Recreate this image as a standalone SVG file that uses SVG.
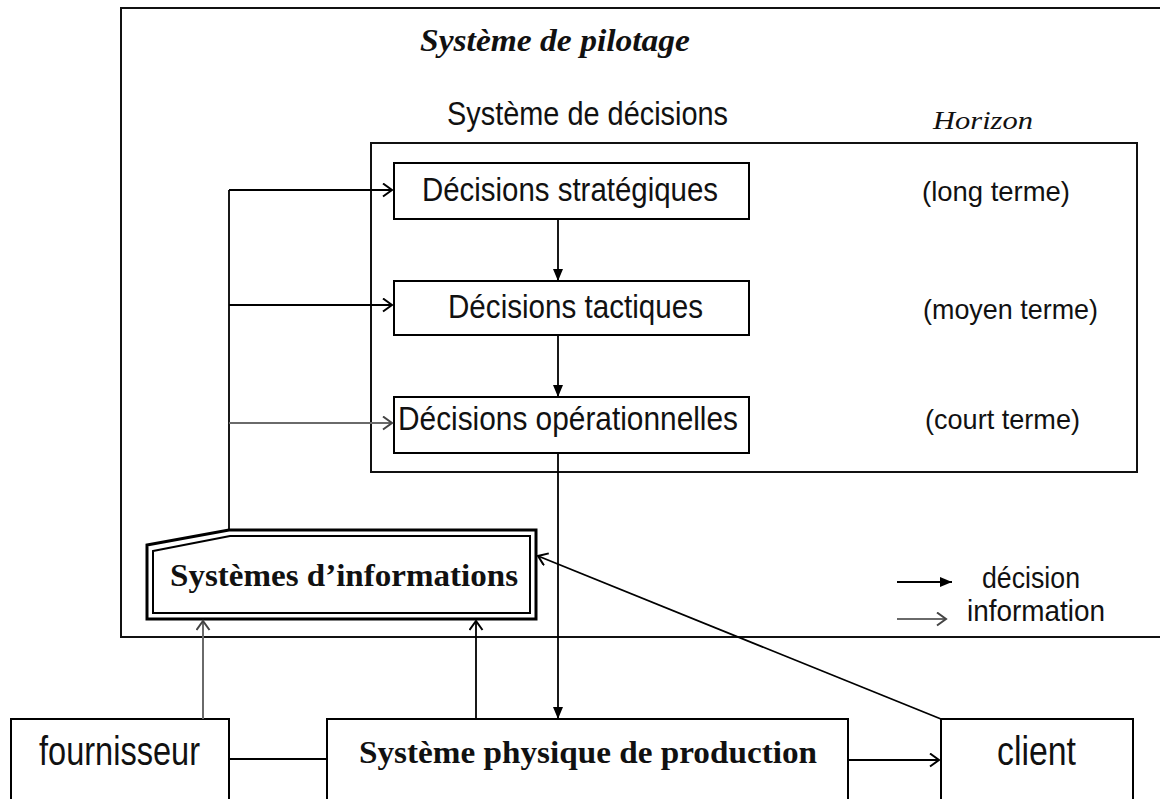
<svg xmlns="http://www.w3.org/2000/svg" width="1160" height="799" viewBox="0 0 1160 799">
  <style>
    .box { fill: #fff; stroke: #000; stroke-width: 2; }
    .frame { fill: none; stroke: #111; stroke-width: 2; }
    .sans { font-family: "Liberation Sans", Arial, sans-serif; fill: #111; }
    .serif { font-family: "Liberation Serif", "Times New Roman", serif; fill: #111; }
    .dec { fill: none; stroke: #000; stroke-width: 1.8; }
    .info { fill: none; stroke: #6a6a6a; stroke-width: 2; }
    .plain { fill: none; stroke: #000; stroke-width: 1.8; }
  </style>
  <defs>
    <marker id="open" markerUnits="userSpaceOnUse" markerWidth="14" markerHeight="16" refX="10" refY="7" orient="auto">
      <path d="M1,0.5 L10,7 L1,13.5" fill="none" stroke="#000" stroke-width="2"/>
    </marker>
    <marker id="openGray" markerUnits="userSpaceOnUse" markerWidth="14" markerHeight="16" refX="10" refY="7" orient="auto">
      <path d="M1,0.5 L10,7 L1,13.5" fill="none" stroke="#444" stroke-width="2"/>
    </marker>
    <marker id="solid" markerUnits="userSpaceOnUse" markerWidth="14" markerHeight="12" refX="12" refY="5" orient="auto">
      <path d="M0,0 L12,5 L0,10 Z" fill="#000"/>
    </marker>
  </defs>

  <!-- steering system frame -->
  <g id="pilotage">
    <rect class="frame" x="121" y="8" width="1080" height="629"/>
    <text class="serif" x="420" y="51" font-size="32" font-weight="bold" font-style="italic" textLength="270" lengthAdjust="spacingAndGlyphs">Système de pilotage</text>
  </g>

  <!-- decision system container -->
  <g id="decisions">
    <rect class="frame" x="371" y="143" width="766" height="329" stroke-width="1.8"/>
    <text class="sans" x="447" y="125" font-size="33" textLength="281" lengthAdjust="spacingAndGlyphs">Système de décisions</text>
    <text class="serif" x="933" y="129" font-size="25" font-style="italic" textLength="100" lengthAdjust="spacingAndGlyphs">Horizon</text>
    <text class="sans" x="922" y="201" font-size="28" textLength="148" lengthAdjust="spacingAndGlyphs">(long terme)</text>
    <text class="sans" x="923" y="319" font-size="28" textLength="175" lengthAdjust="spacingAndGlyphs">(moyen terme)</text>
    <text class="sans" x="925" y="429" font-size="28" textLength="155" lengthAdjust="spacingAndGlyphs">(court terme)</text>
  </g>

  <g id="strategiques">
    <rect class="box" x="394" y="163" width="355" height="56"/>
    <text class="sans" x="422" y="201" font-size="33" textLength="296" lengthAdjust="spacingAndGlyphs">Décisions stratégiques</text>
  </g>

  <g id="tactiques">
    <rect class="box" x="394" y="281" width="355" height="54"/>
    <text class="sans" x="448" y="318" font-size="33" textLength="255" lengthAdjust="spacingAndGlyphs">Décisions tactiques</text>
  </g>

  <g id="operationnelles">
    <rect class="box" x="394" y="397" width="355" height="56"/>
    <text class="sans" x="398" y="430" font-size="33" textLength="340" lengthAdjust="spacingAndGlyphs">Décisions opérationnelles</text>
  </g>

  <!-- information system: chamfered double outline -->
  <g id="systemes-informations">
    <path d="M147,545 L229,530 L536,530 L536,619 L147,619 Z" fill="#fff" stroke="#000" stroke-width="3"/>
    <path d="M153,551 L230,536 L530,536 L530,613 L153,613 Z" fill="#fff" stroke="#000" stroke-width="2"/>
    <text class="serif" x="170" y="586" font-size="32" font-weight="bold" textLength="348" lengthAdjust="spacingAndGlyphs">Systèmes d’informations</text>
  </g>

  <g id="fournisseur">
    <rect class="box" x="11" y="719" width="218" height="120"/>
    <text class="sans" x="39" y="765" font-size="40" textLength="161" lengthAdjust="spacingAndGlyphs">fournisseur</text>
  </g>

  <g id="production">
    <rect class="box" x="327" y="719" width="521" height="120"/>
    <text class="serif" x="359" y="763" font-size="32" font-weight="bold" textLength="458" lengthAdjust="spacingAndGlyphs">Système physique de production</text>
  </g>

  <g id="client">
    <rect class="box" x="941" y="719" width="192" height="120"/>
    <text class="sans" x="997" y="765" font-size="40" textLength="79" lengthAdjust="spacingAndGlyphs">client</text>
  </g>

  <!-- legend -->
  <g id="legende">
    <path class="dec" d="M897,582 H952" marker-end="url(#solid)"/>
    <path class="info" d="M897,619 H946" marker-end="url(#openGray)"/>
    <text class="sans" x="982" y="588" font-size="29" textLength="98" lengthAdjust="spacingAndGlyphs">décision</text>
    <text class="sans" x="967" y="621" font-size="29" textLength="138" lengthAdjust="spacingAndGlyphs">information</text>
  </g>

  <!-- connectors -->
  <g id="connecteurs">
    <!-- top-down decision chain -->
    <path class="dec" d="M558,219 V281" marker-end="url(#solid)"/>
    <path class="dec" d="M558,335 V397" marker-end="url(#solid)"/>
    <path class="dec" d="M558,453 V719" marker-end="url(#solid)"/>
    <!-- information feedback to each decision level -->
    <path class="plain" d="M229,530 V190"/>
    <path class="plain" d="M229,190 H392" marker-end="url(#open)"/>
    <path class="plain" d="M229,305 H392" marker-end="url(#open)"/>
    <path class="info" d="M229,423 H392" marker-end="url(#openGray)"/>
    <!-- flows into the information system -->
    <path class="info" d="M203,719 V621" marker-end="url(#openGray)"/>
    <path class="plain" d="M476,719 V621" marker-end="url(#open)"/>
    <path class="plain" d="M941,719 L538,556" marker-end="url(#open)"/>
    <!-- physical flow -->
    <path class="plain" d="M229,759 H327"/>
    <path class="plain" d="M848,760 H939" marker-end="url(#open)"/>
  </g>
</svg>
